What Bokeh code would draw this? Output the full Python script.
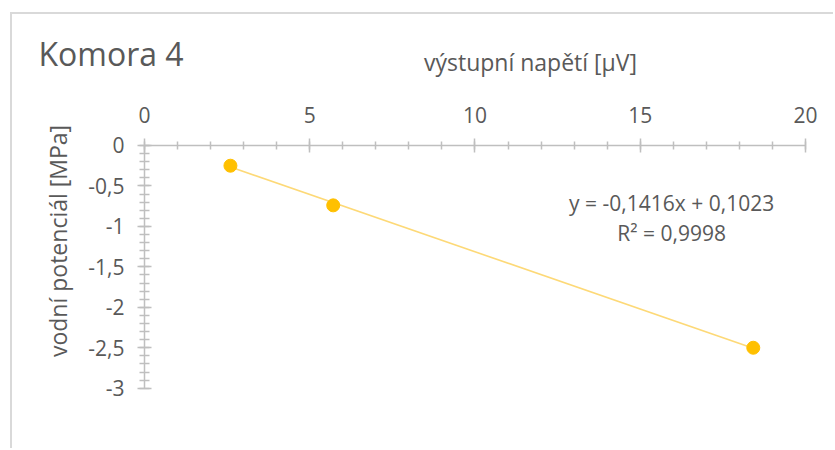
import math
from bokeh.plotting import figure
from bokeh.models import FixedTicker, Label, ColumnDataSource, LinearAxis
from bokeh.embed import file_html
from bokeh.resources import INLINE

# ---- data ----
x_values = [2.60, 5.71, 18.42]          # výstupní napětí [µV]
y_values = [-0.25, -0.74, -2.50]        # vodní potenciál [MPa]
trend_slope = -0.1416
trend_intercept = 0.1023
r_squared = "0,9998"

x_ticks = [0, 5, 10, 15, 20]
x_tick_labels = ["0", "5", "10", "15", "20"]
y_ticks = [0, -0.5, -1, -1.5, -2, -2.5, -3]
y_tick_labels = ["0", "-0,5", "-1", "-1,5", "-2", "-2,5", "-3"]

title_text = "Komora 4"
x_title = "výstupní napětí [µV]"
y_title = "vodní potenciál [MPa]"

FONT = "Open Sans"
TXT = "#595959"
AX = "#bfbfbf"

W, H = 823, 436
p = figure(width=W, height=H, x_range=(-3.994, 20.908), y_range=(-3.770, 1.619),
           x_axis_location=None, y_axis_location=None, output_backend="svg",
           toolbar_location=None, min_border=0)
p.styles = {"margin-left": "10px", "margin-top": "12px",
            "border-left": "2px solid #d9d9d9", "border-top": "2px solid #d9d9d9"}
p.outline_line_color = None
p.xgrid.visible = False
p.ygrid.visible = False
p.background_fill_color = "white"
p.border_fill_color = "white"

# axes (fixed at the data origin, Excel-style)
x_minor = [i for i in range(0, 21)]
y_minor = [-i / 10 for i in range(0, 31)]
xaxis = LinearAxis(fixed_location=0, bounds=(0, 20),
                   ticker=FixedTicker(ticks=x_ticks, minor_ticks=x_minor),
                   major_label_overrides={t: l for t, l in zip(x_ticks, x_tick_labels)})
yaxis = LinearAxis(fixed_location=0, bounds=(-3, 0),
                   ticker=FixedTicker(ticks=y_ticks, minor_ticks=y_minor),
                   major_label_overrides={t: l for t, l in zip(y_ticks, y_tick_labels)})
p.add_layout(xaxis, "above")
p.add_layout(yaxis, "left")
for ax in (xaxis, yaxis):
    ax.axis_line_color = AX
    ax.axis_line_width = 1.5
    ax.major_tick_line_color = AX
    ax.minor_tick_line_color = AX
    ax.major_tick_line_width = 1.5
    ax.minor_tick_line_width = 1.5
    ax.major_tick_in = 7
    ax.major_tick_out = 7
    ax.minor_tick_in = 4
    ax.minor_tick_out = 4
    ax.major_label_text_font = FONT
    ax.major_label_text_font_size = "21px"
    ax.major_label_text_color = TXT
xaxis.major_label_standoff = 15
yaxis.major_label_standoff = 13
yaxis.minor_tick_in = 5
yaxis.minor_tick_out = 5

# trendline
tx = [min(x_values), max(x_values)]
ty = [trend_slope * v + trend_intercept for v in tx]
p.line(tx, ty, line_color="#fdd977", line_width=1.6)

# points
src = ColumnDataSource(dict(x=x_values, y=y_values))
p.scatter("x", "y", source=src, size=13, fill_color="#ffc000", line_color="#ffc000")

# texts
p.add_layout(Label(x=-3.21, y=1.137, text=title_text, text_font=FONT,
                   text_font_size="32px", text_color=TXT, text_align="left",
                   text_baseline="alphabetic"))
p.add_layout(Label(x=11.68, y=1.03, text=x_title, text_font=FONT,
                   text_font_size="23px", text_color=TXT, text_align="center",
                   text_baseline="alphabetic"))
p.add_layout(Label(x=-2.63, y=-1.18, text=y_title, text_font=FONT, angle=math.pi / 2,
                   text_font_size="23px", text_color=TXT, text_align="center",
                   text_baseline="middle"))
eq_text = "y = " + f"{trend_slope:.4f}".replace(".", ",") + "x + " + f"{trend_intercept:.4f}".replace(".", ",")
p.add_layout(Label(x=15.95, y=-0.705, text=eq_text, text_font=FONT,
                   text_font_size="21px", text_color=TXT, text_align="center",
                   text_baseline="alphabetic"))
p.add_layout(Label(x=15.95, y=-1.076, text="R² = " + r_squared, text_font=FONT,
                   text_font_size="21px", text_color=TXT, text_align="center",
                   text_baseline="alphabetic"))

open("out.html", "w").write(file_html(p, INLINE))
